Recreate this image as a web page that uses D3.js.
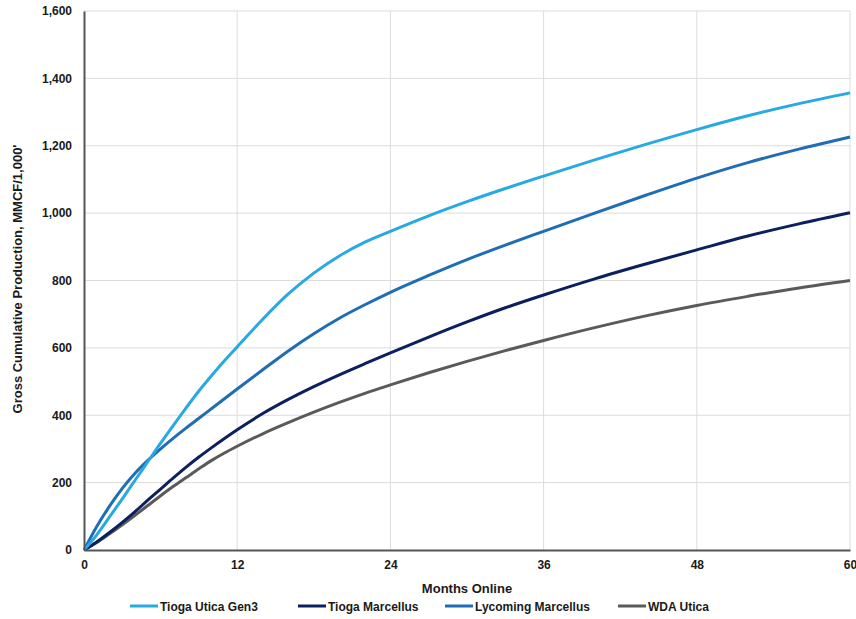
<!DOCTYPE html>
<html lang="en">
<head>
<meta charset="utf-8">
<title>Gross Cumulative Production</title>
<style>
  body { margin: 0; padding: 0; background: #fff; overflow: hidden; }
  svg text { font-family: "Liberation Sans", Arial, sans-serif; font-weight: bold; fill: #1a1a1a; }
  .grid line { stroke: #dcdcdc; stroke-width: 1px; }
  .series { fill: none; stroke-width: 3px; }
</style>
<script src="https://cdn.jsdelivr.net/npm/d3@7"></script>
</head>
<body>
<script>
// months online
var months = [0, 1, 2, 3, 4, 5, 6, 7, 8, 9, 10, 11, 12, 14, 16, 18, 20, 22, 24, 27, 30, 33, 36, 40, 44, 48, 52, 56, 60];

var tiogaUticaGen3 = [0, 45, 98, 152, 207, 262, 317, 370, 422, 472, 518, 562, 603, 685, 760, 822, 873, 914, 946, 992, 1034, 1073, 1110, 1158, 1204, 1248, 1289, 1325, 1357];
var tiogaMarcellus = [0, 24, 52, 82, 114, 148, 181, 214, 246, 276, 304, 331, 357, 405, 447, 485, 520, 553, 585, 632, 677, 719, 757, 805, 849, 891, 932, 968, 1001];
var lycomingMarcellus = [0, 70, 130, 183, 228, 266, 300, 332, 362, 391, 420, 449, 478, 535, 591, 642, 688, 728, 765, 815, 862, 905, 946, 1000, 1053, 1104, 1150, 1190, 1226];
var wdaUtica = [0, 22, 48, 75, 103, 132, 161, 189, 215, 241, 266, 288, 308, 345, 378, 409, 438, 465, 490, 526, 560, 592, 622, 660, 695, 726, 753, 778, 800];

var seriesNames = ["Tioga Utica Gen3", "Tioga Marcellus", "Lycoming Marcellus", "WDA Utica"];
var seriesColors = ["#29a9e1", "#0c1f5e", "#1e6db5", "#5a5a5a"];
var xTicks = [0, 12, 24, 36, 48, 60];
var yTicks = [0, 200, 400, 600, 800, 1000, 1200, 1400, 1600];

var W = 856, H = 619;
var plotLeft = 84, plotRight = 850, plotTop = 11, plotBottom = 550;

var svg = d3.select('body').append('svg')
    .attr('width', W)
    .attr('height', H);

var x = d3.scaleLinear().domain([0, 60]).range([plotLeft, plotRight]);
var y = d3.scaleLinear().domain([0, 1600]).range([plotBottom, plotTop]);

// gridlines
var grid = svg.append('g').attr('class', 'grid');
grid.selectAll('line.h').data(yTicks.slice(1)).enter().append('line')
    .attr('x1', plotLeft).attr('x2', plotRight)
    .attr('y1', function(d) { return y(d); })
    .attr('y2', function(d) { return y(d); });
grid.selectAll('line.v').data(xTicks.slice(1)).enter().append('line')
    .attr('y1', plotTop).attr('y2', plotBottom)
    .attr('x1', function(d) { return x(d); })
    .attr('x2', function(d) { return x(d); });

// series lines
var allSeries = [tiogaUticaGen3, tiogaMarcellus, lycomingMarcellus, wdaUtica];
var line = d3.line()
    .x(function(d) { return x(d[0]); })
    .y(function(d) { return y(d[1]); })
    .curve(d3.curveMonotoneX);

// draw gray first so the blues sit on top
[3, 1, 2, 0].forEach(function(i) {
  svg.append('path')
    .attr('class', 'series')
    .attr('stroke', seriesColors[i])
    .attr('d', line(months.map(function(m, j) { return [m, allSeries[i][j]]; })));
});

// axes
var yAxis = svg.append('g')
    .attr('transform', 'translate(' + plotLeft + ',0)')
    .call(d3.axisLeft(y).tickValues(yTicks).tickSize(0).tickPadding(12).tickFormat(d3.format(',')));
var xAxis = svg.append('g')
    .attr('transform', 'translate(0,' + plotBottom + ')')
    .call(d3.axisBottom(x).tickValues(xTicks).tickSize(0).tickPadding(10));
[yAxis, xAxis].forEach(function(a) {
  a.select('.domain').attr('stroke', '#555').attr('stroke-width', 2);
  a.selectAll('text').style('font-size', '12px');
});

// axis titles
svg.append('text')
    .attr('x', 467).attr('y', 593)
    .attr('text-anchor', 'middle')
    .style('font-size', '13px')
    .text('Months Online');

svg.append('text')
    .attr('transform', 'translate(22,279) rotate(-90)')
    .attr('text-anchor', 'middle')
    .style('font-size', '13px')
    .text('Gross Cumulative Production, MMCF/1,000\'');

// legend
var legendX = [130, 298, 445, 618];
var legend = svg.append('g').attr('transform', 'translate(0,606)');
seriesNames.forEach(function(name, i) {
  legend.append('line')
    .attr('x1', legendX[i]).attr('x2', legendX[i] + 28)
    .attr('y1', 0).attr('y2', 0)
    .attr('stroke', seriesColors[i])
    .attr('stroke-width', 3);
  legend.append('text')
    .attr('x', legendX[i] + 30)
    .attr('y', 4.5)
    .style('font-size', '12px')
    .text(name);
});
</script>
</body>
</html>
